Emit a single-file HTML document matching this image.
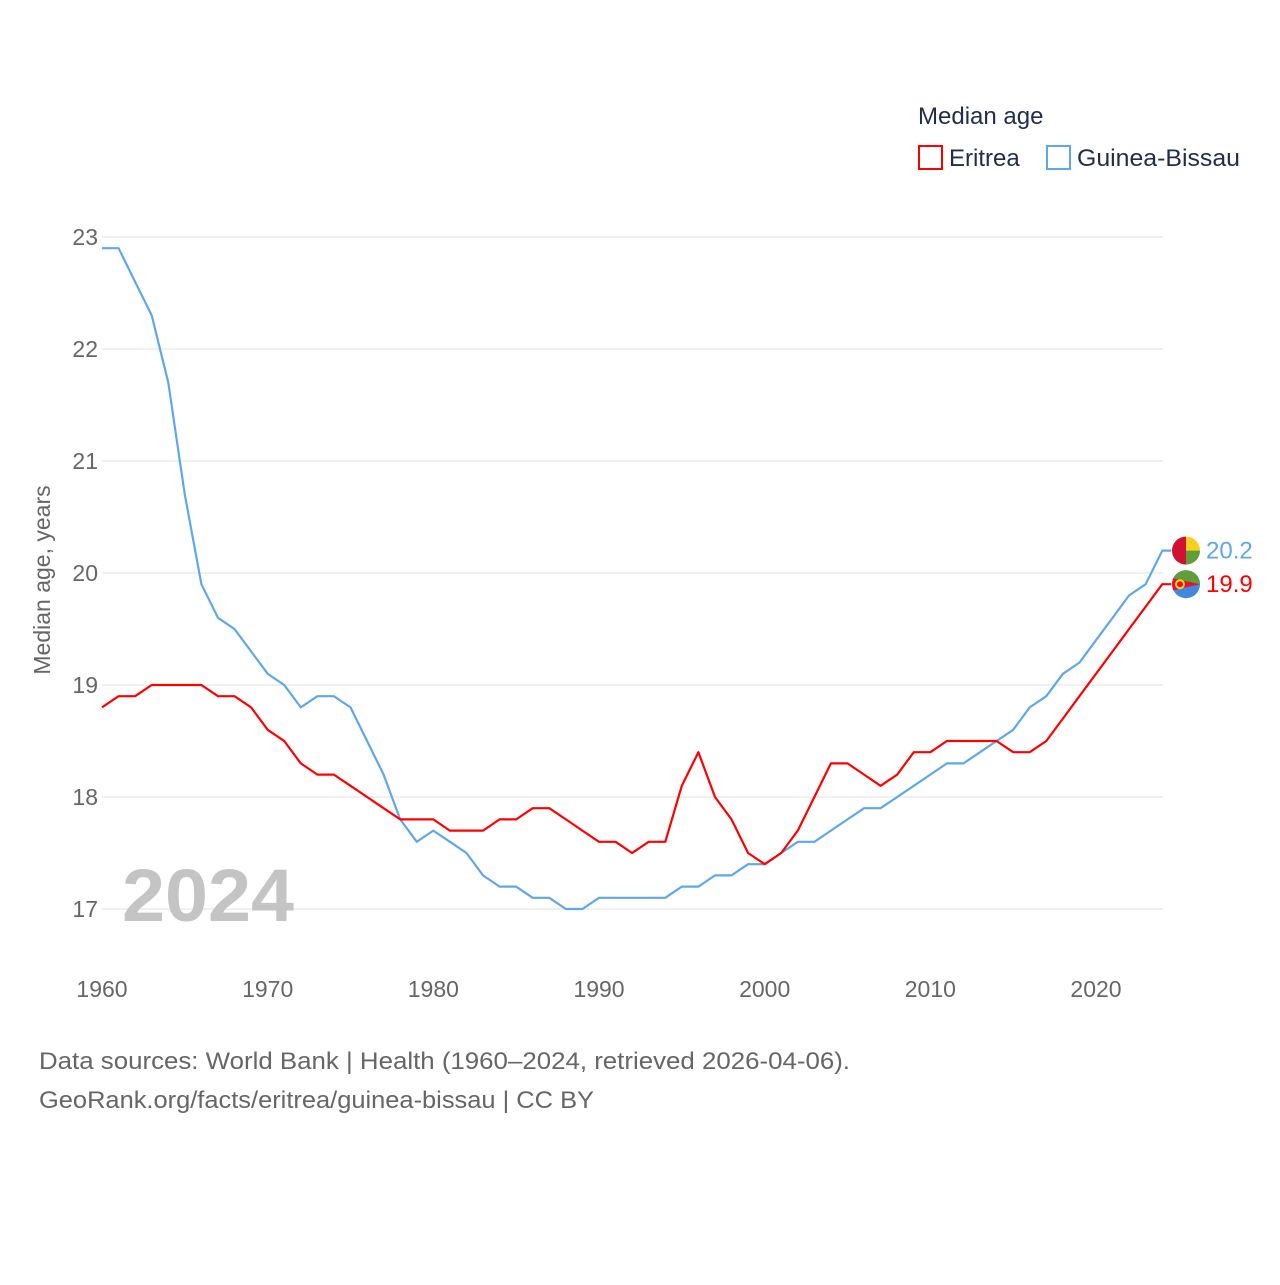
<!DOCTYPE html>
<html><head><meta charset="utf-8"><style>
body{margin:0;background:#fff;font-family:"Liberation Sans",sans-serif;}
</style></head><body>
<svg id="chart" width="1280" height="1280" xmlns="http://www.w3.org/2000/svg" style="font-family:'Liberation Sans',sans-serif">
<g id="grid"></g>
<g id="yticks"></g>
<g id="xticks"></g>
<text x="122" y="921" font-size="74" font-weight="bold" fill="#c4c4c4" textLength="172" lengthAdjust="spacingAndGlyphs">2024</text>
<text transform="translate(50,580) rotate(-90)" text-anchor="middle" font-size="23" fill="#666">Median age, years</text>
<g id="lines"></g>
<g>
<text x="918" y="124" font-size="24" fill="#1f2d4d">Median age</text>
<rect x="919" y="146" width="23" height="23" fill="none" stroke="#ff0000" stroke-width="2"/>
<text x="949" y="166" font-size="24" fill="#1f2d4d">Eritrea</text>
<rect x="1047" y="146" width="23" height="23" fill="none" stroke="#5ea8ea" stroke-width="2"/>
<text x="1077" y="166" font-size="24" fill="#1f2d4d" textLength="163" lengthAdjust="spacingAndGlyphs">Guinea-Bissau</text>
</g>
<text x="39" y="1069" font-size="24" fill="#666" textLength="811" lengthAdjust="spacingAndGlyphs">Data sources: World Bank | Health (1960–2024, retrieved 2026-04-06).</text>
<text x="39" y="1108" font-size="24" fill="#666" textLength="555" lengthAdjust="spacingAndGlyphs">GeoRank.org/facts/eritrea/guinea-bissau | CC BY</text>
</svg>
<script>
const years = [];
for (let y = 1960; y <= 2024; y++) years.push(y);
const eritrea = [18.8,18.9,18.9,19.0,19.0,19.0,19.0,18.9,18.9,18.8,18.6,18.5,18.3,18.2,18.2,18.1,18.0,17.9,17.8,17.8,17.8,17.7,17.7,17.7,17.8,17.8,17.9,17.9,17.8,17.7,17.6,17.6,17.5,17.6,17.6,18.1,18.4,18.0,17.8,17.5,17.4,17.5,17.7,18.0,18.3,18.3,18.2,18.1,18.2,18.4,18.4,18.5,18.5,18.5,18.5,18.4,18.4,18.5,18.7,18.9,19.1,19.3,19.5,19.7,19.9];
const guineaBissau = [22.9,22.9,22.6,22.3,21.7,20.7,19.9,19.6,19.5,19.3,19.1,19.0,18.8,18.9,18.9,18.8,18.5,18.2,17.8,17.6,17.7,17.6,17.5,17.3,17.2,17.2,17.1,17.1,17.0,17.0,17.1,17.1,17.1,17.1,17.1,17.2,17.2,17.3,17.3,17.4,17.4,17.5,17.6,17.6,17.7,17.8,17.9,17.9,18.0,18.1,18.2,18.3,18.3,18.4,18.5,18.6,18.8,18.9,19.1,19.2,19.4,19.6,19.8,19.9,20.2];
const yTicks = [17,18,19,20,21,22,23];
const xTicks = [1960,1970,1980,1990,2000,2010,2020];
const NS = "http://www.w3.org/2000/svg";
const xs = y => 102 + (y - 1960) * (1096 - 102) / 60;
const ys = v => 909 - (v - 17) * 112;
function mk(tag, attrs, parent, text){const e=document.createElementNS(NS,tag);for(const k in attrs)e.setAttribute(k,attrs[k]);if(text!==undefined)e.textContent=text;document.getElementById(parent).appendChild(e);return e;}
yTicks.forEach(t=>{
  const l=mk('line',{x1:102,x2:1163,y1:ys(t),y2:ys(t),stroke:'#ebebeb','stroke-width':1.5},'grid');
  
  
  const tx=mk('text',{x:98,y:ys(t)+8,'text-anchor':'end','font-size':23,fill:'#666'},'yticks',String(t));
  
  
});
xTicks.forEach(t=>{
  const tx=mk('text',{x:xs(t),y:997,'text-anchor':'middle','font-size':23,fill:'#666'},'xticks',String(t));
  
  
});
function series(vals,color,name){
  let d=vals.map((v,i)=>(i?'L':'M')+xs(years[i]).toFixed(1)+','+ys(v).toFixed(1)).join(' ');
  d+=' L'+(xs(2024)+9)+','+ys(vals[vals.length-1]).toFixed(1);
  const p=mk('path',{d:d,fill:'none',stroke:color,'stroke-width':2.2,'stroke-linejoin':'round'},'lines');
  
  
}
series(guineaBissau,'#5ea8ea','guinea-bissau');
series(eritrea,'#ff0000','eritrea');
const gbY=ys(guineaBissau[guineaBissau.length-1]), erY=ys(eritrea[eritrea.length-1]);
const f1=mk('circle',{cx:1186,cy:gbY,r:14,fill:'#f5d020'},'lines');


mk('path',{d:`M1186,${gbY} L1200,${gbY} A14,14 0 0 1 1186,${gbY+14} Z`,fill:'#5f9e3b'},'lines');
mk('path',{d:`M1186,${gbY-14} A14,14 0 0 0 1186,${gbY+14} Z`,fill:'#d21034'},'lines');
const f2=mk('circle',{cx:1186,cy:erY,r:14,fill:'#4189dd'},'lines');


mk('path',{d:`M1172,${erY} A14,14 0 0 1 1200,${erY} Z`,fill:'#5f9e3b'},'lines');
mk('path',{d:`M1173,${erY-6} L1200,${erY} L1173,${erY+6} L1172,${erY} Z`,fill:'#e8112d'},'lines');
mk('circle',{cx:1180,cy:erY,r:4,fill:'none',stroke:'#f5d020','stroke-width':2},'lines');
const l1=mk('text',{x:1206,y:gbY+8,'font-size':24,fill:'#5ea8ea'},'lines','20.2');


const l2=mk('text',{x:1206,y:erY+8,'font-size':24,fill:'#ff0000'},'lines','19.9');


</script>
</body></html>
